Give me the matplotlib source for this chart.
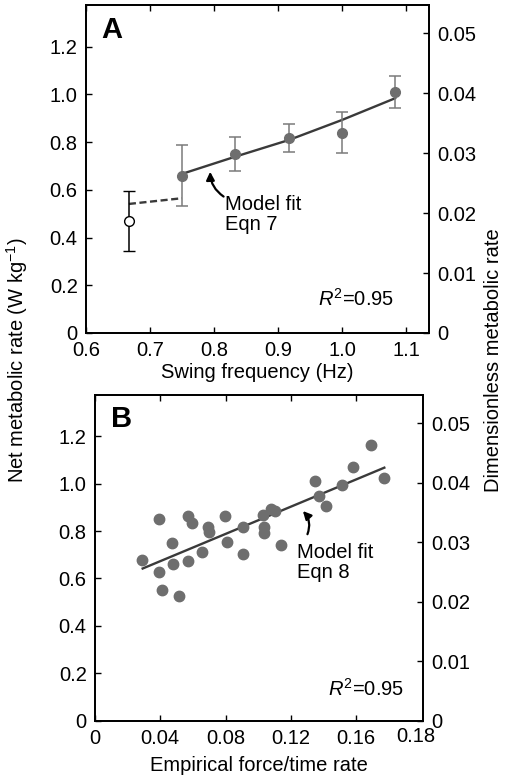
import matplotlib
matplotlib.use('Agg')
import matplotlib.pyplot as plt
from matplotlib.transforms import blended_transform_factory

plt.rcParams['font.family'] = ['Liberation Sans', 'DejaVu Sans']
plt.rcParams['mathtext.fontset'] = 'custom'
plt.rcParams['mathtext.rm'] = 'Liberation Sans'
plt.rcParams['mathtext.it'] = 'Liberation Sans:italic'

# Panel A: swing frequency data
freq = [0.75, 0.833, 0.917, 1.0, 1.083]
rate_a = [0.658, 0.749, 0.816, 0.840, 1.009]
err_lo_a = [0.126, 0.069, 0.056, 0.084, 0.067]
err_hi_a = [0.130, 0.071, 0.059, 0.085, 0.067]

open_freq = [0.667]
open_rate = [0.470]
open_lo = [0.125]
open_hi = [0.125]

fit_freq = [0.75, 0.833, 0.917, 1.0, 1.083]
fit_rate_a = [0.667, 0.739, 0.809, 0.893, 0.984]
dash_freq = [0.667, 0.75]
dash_rate = [0.541, 0.565]

# Panel B: empirical force/time rate
force_rate = [0.0288, 0.0390, 0.0390, 0.0410, 0.0472, 0.0476, 0.0514, 0.0567, 0.0594, 0.0567,
              0.0655, 0.0692, 0.0698, 0.0798, 0.0810, 0.0906, 0.0908, 0.1029, 0.1035, 0.1033,
              0.1080, 0.1104, 0.1137, 0.1351, 0.1372, 0.1418, 0.1513, 0.1584, 0.1694, 0.1772]
rate_b = [0.677, 0.851, 0.628, 0.551, 0.748, 0.660, 0.525, 0.864, 0.835, 0.672,
          0.710, 0.818, 0.798, 0.863, 0.755, 0.818, 0.703, 0.867, 0.818, 0.793,
          0.895, 0.885, 0.741, 1.012, 0.949, 0.905, 0.994, 1.071, 1.164, 1.023]
fit_force = [0.0292, 0.1773]
fit_rate_b = [0.642, 1.068]

left_ticks = [0, 0.2, 0.4, 0.6, 0.8, 1.0, 1.2]
left_labels = ['0', '0.2', '0.4', '0.6', '0.8', '1.0', '1.2']
right_ticks = [0, 0.01, 0.02, 0.03, 0.04, 0.05]
right_labels = ['0', '0.01', '0.02', '0.03', '0.04', '0.05']
xticks_a = [0.6, 0.7, 0.8, 0.9, 1.0, 1.1]
xlabels_a = ['0.6', '0.7', '0.8', '0.9', '1.0', '1.1']
xticks_b = [0, 0.04, 0.08, 0.12, 0.16]
xlabels_b = ['0', '0.04', '0.08', '0.12', '0.16']

YMAX = 1.375
SCALE = 0.0398
FS = 14.5
dot_col = '#6e6e6e'
line_col = '#3a3a3a'


def style_axes(ax):
    for s in ax.spines.values():
        s.set_linewidth(1.3)
    ax.tick_params(direction='in', length=4, width=1, labelsize=FS, pad=6,
                   top=True, right=False)
    ax.set_ylim(0, YMAX)
    ax.set_yticks(left_ticks)
    ax.set_yticklabels(left_labels)
    ax2 = ax.twinx()
    ax2.set_ylim(0, YMAX * SCALE)
    ax2.set_yticks(right_ticks)
    ax2.set_yticklabels(right_labels)
    ax2.tick_params(direction='in', length=4, width=1, labelsize=FS, pad=6)
    for s in ax2.spines.values():
        s.set_linewidth(1.3)
    return ax2


fig = plt.figure(figsize=(5.11, 7.75), dpi=100)
ax_a = fig.add_axes([86 / 511, 1 - 333 / 775, 343 / 511, 328 / 775])
ax_b = fig.add_axes([95 / 511, 1 - 720.5 / 775, 328 / 511, 325.5 / 775])

# ---- Panel A
ax_a.plot(fit_freq, fit_rate_a, color=line_col, lw=1.7, zorder=3)
ax_a.plot(dash_freq, dash_rate, color=line_col, lw=1.7, ls=(0, (3, 1.5)), zorder=3)
ax_a.errorbar(freq, rate_a, yerr=[err_lo_a, err_hi_a], fmt='o', ms=7, color=dot_col,
              ecolor='#7a7a7a', elinewidth=1.1, capsize=4, capthick=1.1, zorder=4)
ax_a.errorbar(open_freq, open_rate, yerr=[open_lo, open_hi], fmt='o', ms=7, mfc='white',
              mec='black', mew=1, ecolor='black', elinewidth=1.1, capsize=4, capthick=1.1, zorder=4)
ax_a.set_xlim(0.6, 1.136)
ax_a.set_xticks(xticks_a)
ax_a.set_xticklabels(xlabels_a)
ax_a.set_xlabel('Swing frequency (Hz)', fontsize=FS, labelpad=2)
style_axes(ax_a)
ax_a.annotate('', xy=(0.794, 0.676), xytext=(0.815, 0.572),
              arrowprops=dict(arrowstyle='-|>', color='black', lw=1.6, mutation_scale=12,
                              connectionstyle='arc3,rad=-0.25', shrinkA=0, shrinkB=0))
ax_a.text(0.817, 0.58, 'Model fit\nEqn 7', fontsize=FS, va='top', ha='left', linespacing=1.1)
ax_a.text(0.898, 0.104, '$R^2$=0.95', transform=ax_a.transAxes, fontsize=FS, ha='right', va='center')
ax_a.text(0.045, 0.925, 'A', transform=ax_a.transAxes, fontsize=21, fontweight='bold',
          ha='left', va='center')

# ---- Panel B
ax_b.plot(fit_force, fit_rate_b, color=line_col, lw=1.7, zorder=3)
ax_b.plot(force_rate, rate_b, 'o', ms=7.5, color=dot_col, zorder=4)
ax_b.set_xlim(0, 0.201)
ax_b.set_xticks(xticks_b)
ax_b.set_xticklabels(xlabels_b)
ax_b.set_xlabel('Empirical force/time rate', fontsize=FS, labelpad=6)
style_axes(ax_b)
trans = blended_transform_factory(ax_b.transData, ax_b.transAxes)
ax_b.text(0.1965, -0.019, '0.18', transform=trans, fontsize=FS, ha='center', va='top')
ax_b.annotate('', xy=(0.1274, 0.885), xytext=(0.1302, 0.787),
              arrowprops=dict(arrowstyle='-|>', color='black', lw=1.6, mutation_scale=12,
                              connectionstyle='arc3,rad=0.3', shrinkA=0, shrinkB=0))
ax_b.text(0.124, 0.75, 'Model fit\nEqn 8', fontsize=FS, va='top', ha='left', linespacing=1.1)
ax_b.text(0.942, 0.097, '$R^2$=0.95', transform=ax_b.transAxes, fontsize=FS, ha='right', va='center')
ax_b.text(0.05, 0.925, 'B', transform=ax_b.transAxes, fontsize=21, fontweight='bold',
          ha='left', va='center')

fig.text(17 / 511, 0.535, 'Net metabolic rate (W kg$^{-1}$)', rotation=90, fontsize=FS,
         ha='center', va='center')
fig.text(493 / 511, 0.535, 'Dimensionless metabolic rate', rotation=90, fontsize=FS,
         ha='center', va='center')

fig.savefig('out.png', dpi=100)
